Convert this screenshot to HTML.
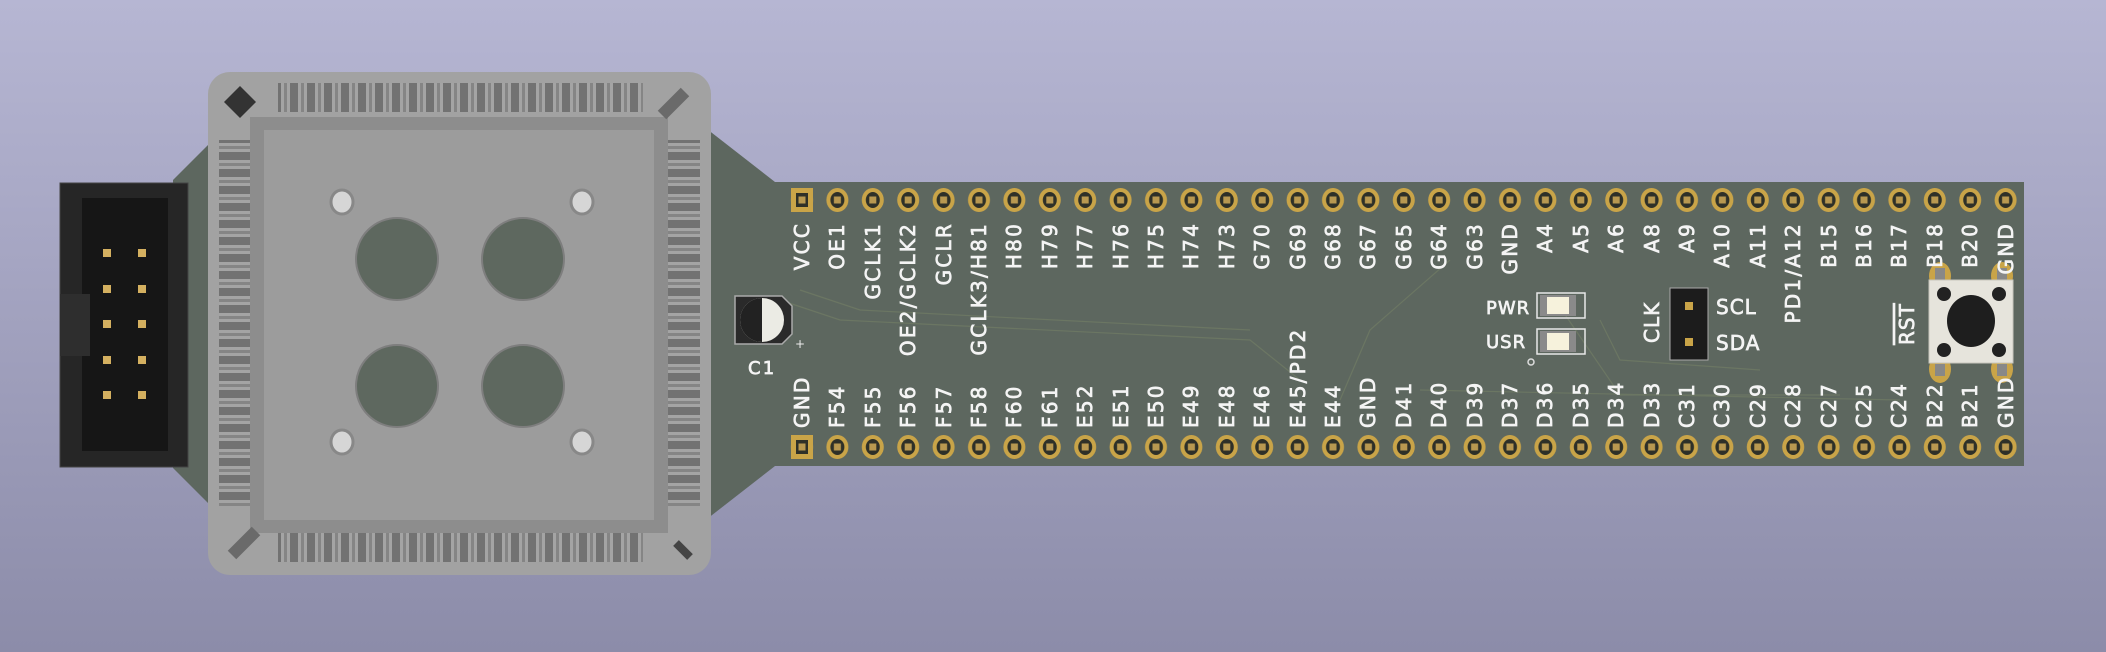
<!DOCTYPE html>
<html><head><meta charset="utf-8"><style>
html,body{margin:0;padding:0;width:2106px;height:652px;overflow:hidden}
body{background:linear-gradient(#b6b6d3,#8c8ca9)}
svg{position:absolute;left:0;top:0}
.t{font-family:"DejaVu Sans","Liberation Sans",sans-serif;font-size:20px;fill:#f4f4f4;stroke:#f4f4f4;stroke-width:0.7;letter-spacing:2.2px}
</style></head><body>
<svg width="2106" height="652" viewBox="0 0 2106 652" xmlns="http://www.w3.org/2000/svg">
<defs>
<pattern id="pads" patternUnits="userSpaceOnUse" x="784.3" y="0" width="35.4" height="652">
 <ellipse cx="17.7" cy="200" rx="11" ry="12" fill="#c9a448"/>
 <ellipse cx="17.7" cy="200" rx="7" ry="8" fill="#2e3028"/>
 <rect x="14.2" y="196.5" width="7" height="7" fill="#b89850"/>
 <ellipse cx="17.7" cy="447" rx="11" ry="12" fill="#c9a448"/>
 <ellipse cx="17.7" cy="447" rx="7" ry="8" fill="#2e3028"/>
 <rect x="14.2" y="443.5" width="7" height="7" fill="#b89850"/>
</pattern>
<pattern id="pinsH" patternUnits="userSpaceOnUse" x="278" y="0" width="17" height="10">
 <rect width="17" height="10" fill="#727272"/><rect x="3" width="9" height="10" fill="#a4a4a4"/><rect x="6" width="3" height="10" fill="#858585"/>
</pattern>
<pattern id="pinsV" patternUnits="userSpaceOnUse" x="0" y="140" width="10" height="17">
 <rect width="10" height="17" fill="#727272"/><rect y="3" width="10" height="9" fill="#a4a4a4"/><rect y="6" width="10" height="3" fill="#858585"/>
</pattern>
</defs>
<polygon points="173,180 245,108 680,108 775,182 2024,182 2024,466 775,466 680,540 245,540 173,468" fill="#5d675f"/>
<g stroke="#6f7a64" stroke-width="1.2" fill="none" opacity="0.8">
<path d="M780,300 L840,320 L1250,340 L1300,380"/><path d="M800,290 L860,310 L1250,330"/><path d="M1450,260 L1370,330 L1340,400"/>
<path d="M1600,320 L1620,360 L1760,370"/><path d="M1555,300 L1620,395 L1840,395"/><path d="M1420,390 L1900,400"/>
</g>
<rect x="780" y="185" width="1245" height="30" fill="url(#pads)"/>
<rect x="780" y="432" width="1245" height="30" fill="url(#pads)"/>
<rect x="791" y="188" width="22" height="24" fill="#c9a448"/><rect x="796" y="193" width="12" height="14" fill="#2e3028"/><rect x="798.5" y="196.5" width="7" height="7" fill="#b89850"/>
<rect x="791" y="435" width="22" height="24" fill="#c9a448"/><rect x="796" y="440" width="12" height="14" fill="#2e3028"/><rect x="798.5" y="443.5" width="7" height="7" fill="#b89850"/>
<rect x="60" y="183" width="128" height="284" fill="#262626" stroke="#444" stroke-width="1"/>
<rect x="82" y="198" width="86" height="253" fill="#161616"/>
<rect x="60" y="294" width="30" height="62" fill="#2e2e2e"/>
<g fill="#d4b060">
<rect x="103" y="249" width="8" height="8"/><rect x="138" y="249" width="8" height="8"/>
<rect x="103" y="285" width="8" height="8"/><rect x="138" y="285" width="8" height="8"/>
<rect x="103" y="320" width="8" height="8"/><rect x="138" y="320" width="8" height="8"/>
<rect x="103" y="356" width="8" height="8"/><rect x="138" y="356" width="8" height="8"/>
<rect x="103" y="391" width="8" height="8"/><rect x="138" y="391" width="8" height="8"/>
</g>
<rect x="208" y="72" width="503" height="503" rx="22" fill="#a2a2a2"/>
<rect x="278" y="83" width="365" height="29" fill="url(#pinsH)"/>
<rect x="278" y="533" width="365" height="29" fill="url(#pinsH)"/>
<rect x="219" y="140" width="31" height="366" fill="url(#pinsV)"/>
<rect x="668" y="140" width="32" height="366" fill="url(#pinsV)"/>
<rect x="250" y="117" width="418" height="416" fill="#8d8d8d"/>
<rect x="264" y="130" width="390" height="390" fill="#9c9c9c"/>
<polygon points="240,86 256,102 240,118 224,102" fill="#333"/>
<line x1="685" y1="92" x2="662" y2="115" stroke="#6a6a6a" stroke-width="12"/>
<line x1="232" y1="555" x2="256" y2="531" stroke="#6a6a6a" stroke-width="12"/>
<line x1="690" y1="557" x2="676" y2="543" stroke="#444" stroke-width="8"/>
<g fill="#5e685f" stroke="#7e7e7e" stroke-width="2">
<circle cx="397" cy="259" r="41"/><circle cx="523" cy="259" r="41"/><circle cx="397" cy="386" r="41"/><circle cx="523" cy="386" r="41"/>
</g>
<g fill="#d6d6d6" stroke="#888" stroke-width="3">
<ellipse cx="342" cy="202" rx="11" ry="12"/><ellipse cx="582" cy="202" rx="11" ry="12"/><ellipse cx="342" cy="442" rx="11" ry="12"/><ellipse cx="582" cy="442" rx="11" ry="12"/>
</g>
<polygon points="735,296 782,296 792,306 792,334 782,344 735,344" fill="#2a2a2a" stroke="#aaa" stroke-width="1.5"/>
<circle cx="762" cy="320" r="22" fill="#ebebe4"/>
<path d="M762,298 A22,22 0 0 0 762,342 Z" fill="#222"/>
<text class="t" x="748" y="374" style="font-size:18px">C1</text>
<text x="795" y="348" fill="#eee" font-size="12" font-family="DejaVu Sans">+</text>
<text class="t" x="1486" y="314" style="font-size:18px;letter-spacing:1px">PWR</text>
<text class="t" x="1486" y="348" style="font-size:18px;letter-spacing:1px">USR</text>
<rect x="1537" y="293" width="48" height="25" fill="none" stroke="#e8e8e8" stroke-width="1.5"/>
<rect x="1537" y="329" width="48" height="25" fill="none" stroke="#e8e8e8" stroke-width="1.5"/>
<rect x="1540" y="295" width="36" height="21" fill="#8a8a8a"/><rect x="1547" y="297" width="22" height="17" fill="#f6f2dc"/>
<rect x="1540" y="331" width="36" height="21" fill="#8a8a8a"/><rect x="1547" y="333" width="22" height="17" fill="#f6f2dc"/>
<circle cx="1531" cy="362" r="3" fill="none" stroke="#ddd" stroke-width="1.5"/>
<rect x="1670" y="288" width="38" height="72" fill="#1c1c1c" stroke="#aaa" stroke-width="1"/>
<rect x="1685" y="302" width="8" height="8" fill="#c9a448"/><rect x="1685" y="338" width="8" height="8" fill="#c9a448"/>
<text class="t" x="1716" y="314" style="letter-spacing:1px">SCL</text>
<text class="t" x="1716" y="350" style="letter-spacing:1px">SDA</text>
<text class="t" transform="translate(1659,343) rotate(-90)" style="letter-spacing:1px">CLK</text>
<text class="t" transform="translate(1914,345) rotate(-90)" style="letter-spacing:1px;text-decoration:overline">RST</text>
<g fill="#c9a448"><ellipse cx="1940" cy="276" rx="11" ry="14"/><ellipse cx="2002" cy="276" rx="11" ry="14"/><ellipse cx="1940" cy="369" rx="11" ry="14"/><ellipse cx="2002" cy="369" rx="11" ry="14"/></g>
<g fill="#888"><rect x="1935" y="268" width="10" height="12"/><rect x="1997" y="268" width="10" height="12"/><rect x="1935" y="364" width="10" height="12"/><rect x="1997" y="364" width="10" height="12"/></g>
<rect x="1929" y="280" width="84" height="83" fill="#e6e4dc" stroke="#c8c6bc"/>
<ellipse cx="1971" cy="321" rx="24" ry="26" fill="#1e1e1e"/>
<g fill="#222"><circle cx="1944" cy="294" r="7"/><circle cx="1999" cy="294" r="7"/><circle cx="1944" cy="350" r="7"/><circle cx="1999" cy="350" r="7"/></g>
<g class="t" text-anchor="end">
<text transform="translate(809,222) rotate(-90)">VCC</text>
<text transform="translate(844,222) rotate(-90)">OE1</text>
<text transform="translate(880,222) rotate(-90)">GCLK1</text>
<text transform="translate(915,222) rotate(-90)">OE2/GCLK2</text>
<text transform="translate(951,222) rotate(-90)">GCLR</text>
<text transform="translate(986,222) rotate(-90)">GCLK3/H81</text>
<text transform="translate(1021,222) rotate(-90)">H80</text>
<text transform="translate(1057,222) rotate(-90)">H79</text>
<text transform="translate(1092,222) rotate(-90)">H77</text>
<text transform="translate(1128,222) rotate(-90)">H76</text>
<text transform="translate(1163,222) rotate(-90)">H75</text>
<text transform="translate(1198,222) rotate(-90)">H74</text>
<text transform="translate(1234,222) rotate(-90)">H73</text>
<text transform="translate(1269,222) rotate(-90)">G70</text>
<text transform="translate(1305,222) rotate(-90)">G69</text>
<text transform="translate(1340,222) rotate(-90)">G68</text>
<text transform="translate(1375,222) rotate(-90)">G67</text>
<text transform="translate(1411,222) rotate(-90)">G65</text>
<text transform="translate(1446,222) rotate(-90)">G64</text>
<text transform="translate(1482,222) rotate(-90)">G63</text>
<text transform="translate(1517,222) rotate(-90)">GND</text>
<text transform="translate(1552,222) rotate(-90)">A4</text>
<text transform="translate(1588,222) rotate(-90)">A5</text>
<text transform="translate(1623,222) rotate(-90)">A6</text>
<text transform="translate(1659,222) rotate(-90)">A8</text>
<text transform="translate(1694,222) rotate(-90)">A9</text>
<text transform="translate(1729,222) rotate(-90)">A10</text>
<text transform="translate(1765,222) rotate(-90)">A11</text>
<text transform="translate(1800,222) rotate(-90)">PD1/A12</text>
<text transform="translate(1836,222) rotate(-90)">B15</text>
<text transform="translate(1871,222) rotate(-90)">B16</text>
<text transform="translate(1906,222) rotate(-90)">B17</text>
<text transform="translate(1942,222) rotate(-90)">B18</text>
<text transform="translate(1977,222) rotate(-90)">B20</text>
<text transform="translate(2013,222) rotate(-90)">GND</text>
</g>
<g class="t" text-anchor="start">
<text transform="translate(809,428) rotate(-90)">GND</text>
<text transform="translate(844,428) rotate(-90)">F54</text>
<text transform="translate(880,428) rotate(-90)">F55</text>
<text transform="translate(915,428) rotate(-90)">F56</text>
<text transform="translate(951,428) rotate(-90)">F57</text>
<text transform="translate(986,428) rotate(-90)">F58</text>
<text transform="translate(1021,428) rotate(-90)">F60</text>
<text transform="translate(1057,428) rotate(-90)">F61</text>
<text transform="translate(1092,428) rotate(-90)">E52</text>
<text transform="translate(1128,428) rotate(-90)">E51</text>
<text transform="translate(1163,428) rotate(-90)">E50</text>
<text transform="translate(1198,428) rotate(-90)">E49</text>
<text transform="translate(1234,428) rotate(-90)">E48</text>
<text transform="translate(1269,428) rotate(-90)">E46</text>
<text transform="translate(1305,428) rotate(-90)">E45/PD2</text>
<text transform="translate(1340,428) rotate(-90)">E44</text>
<text transform="translate(1375,428) rotate(-90)">GND</text>
<text transform="translate(1411,428) rotate(-90)">D41</text>
<text transform="translate(1446,428) rotate(-90)">D40</text>
<text transform="translate(1482,428) rotate(-90)">D39</text>
<text transform="translate(1517,428) rotate(-90)">D37</text>
<text transform="translate(1552,428) rotate(-90)">D36</text>
<text transform="translate(1588,428) rotate(-90)">D35</text>
<text transform="translate(1623,428) rotate(-90)">D34</text>
<text transform="translate(1659,428) rotate(-90)">D33</text>
<text transform="translate(1694,428) rotate(-90)">C31</text>
<text transform="translate(1729,428) rotate(-90)">C30</text>
<text transform="translate(1765,428) rotate(-90)">C29</text>
<text transform="translate(1800,428) rotate(-90)">C28</text>
<text transform="translate(1836,428) rotate(-90)">C27</text>
<text transform="translate(1871,428) rotate(-90)">C25</text>
<text transform="translate(1906,428) rotate(-90)">C24</text>
<text transform="translate(1942,428) rotate(-90)">B22</text>
<text transform="translate(1977,428) rotate(-90)">B21</text>
<text transform="translate(2013,428) rotate(-90)">GND</text>
</g>
</svg>
</body></html>
